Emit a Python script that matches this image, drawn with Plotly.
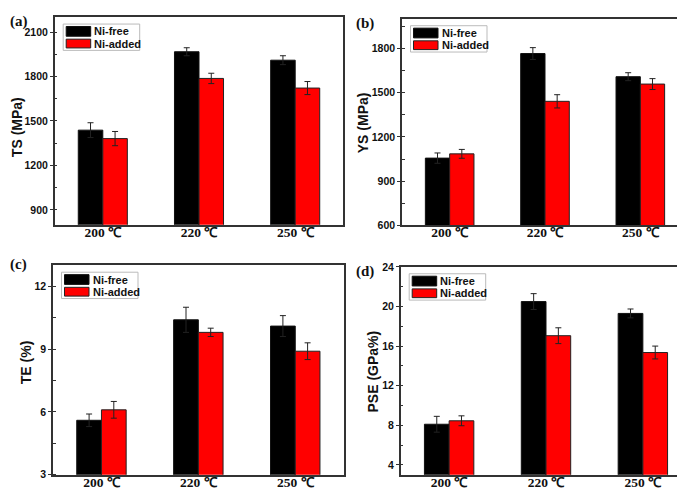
import plotly.graph_objects as go
from plotly.subplots import make_subplots

temps = ["200 ℃", "220 ℃", "250 ℃"]

ts_free = [1438, 1967, 1910]
ts_free_err = [50, 27, 30]
ts_added = [1381, 1787, 1722]
ts_added_err = [48, 35, 44]

ys_free = [1056, 1765, 1608]
ys_free_err = [35, 40, 27]
ys_added = [1085, 1441, 1558]
ys_added_err = [30, 45, 37]

te_free = [5.6, 10.4, 10.1]
te_free_err = [0.3, 0.6, 0.5]
te_added = [6.1, 9.8, 8.9]
te_added_err = [0.4, 0.2, 0.4]

pse_free = [8.1, 20.5, 19.3]
pse_free_err = [0.8, 0.8, 0.45]
pse_added = [8.45, 17.05, 15.35]
pse_added_err = [0.5, 0.8, 0.65]

W, H = 685, 489
SANS = "Liberation Sans, Arial, sans-serif"
SERIF = "Liberation Serif, Times New Roman, serif"
FRAME = "#333333"

# frame boxes in pixels: left, top, right, bottom
PANELS = [
    dict(box=(46.7, 3.3, 335.3, 216.0), label="(a)", lab_xy=(0, 8),
         title="TS (MPa)", title_xy=(9, 116), rng=[800, 2200], dtick=300,
         free=ts_free, free_err=ts_free_err, added=ts_added, added_err=ts_added_err),
    dict(box=(394.0, 5.0, 680.0, 216.7), label="(b)", lab_xy=(346, 10),
         title="YS (MPa)", title_xy=(355, 112), rng=[600, 2000], dtick=300,
         free=ys_free, free_err=ys_free_err, added=ys_added, added_err=ys_added_err),
    dict(box=(45.0, 257.7, 335.7, 472.3), label="(c)", lab_xy=(0, 257),
         title="TE (%)", title_xy=(18, 357), rng=[3, 13], dtick=3,
         free=te_free, free_err=te_free_err, added=te_added, added_err=te_added_err),
    dict(box=(392.7, 259.3, 683.3, 472.3), label="(d)", lab_xy=(346, 264),
         title="PSE (GPa%)", title_xy=(364.5, 367), rng=[3, 24], dtick=4,
         free=pse_free, free_err=pse_free_err, added=pse_added, added_err=pse_added_err),
]

fig = make_subplots(rows=2, cols=2)

for i, p in enumerate(PANELS):
    r, c = i // 2 + 1, i % 2 + 1
    fig.add_trace(go.Bar(
        x=temps, y=p["free"], name="Ni-free", marker_color="#000000",
        marker_line=dict(color="#111111", width=1),
        error_y=dict(type="data", array=p["free_err"], color="#222222", thickness=1, width=3),
        showlegend=False,
    ), row=r, col=c)
    fig.add_trace(go.Bar(
        x=temps, y=p["added"], name="Ni-added", marker_color="#ff0000",
        marker_line=dict(color="#222222", width=1),
        error_y=dict(type="data", array=p["added_err"], color="#222222", thickness=1, width=3),
        showlegend=False,
    ), row=r, col=c)

    x0, y0, x1, y1 = p["box"]
    sfx = "" if i == 0 else str(i + 1)
    fig.update_layout(**{
        f"xaxis{sfx}": dict(
            domain=[x0 / W, x1 / W], range=[-0.5, 2.5], ticks="",
            showline=True, mirror=True, linecolor=FRAME, linewidth=1.5,
            tickfont=dict(family=SERIF, size=13.5, color="#111111", weight="bold"),
            ticklabelstandoff=-6,
            showgrid=False, zeroline=False,
        ),
        f"yaxis{sfx}": dict(
            domain=[1 - y1 / H, 1 - y0 / H], range=p["rng"], dtick=p["dtick"],
            ticks="outside", ticklen=3, tickcolor=FRAME,
            minor=dict(ticks="inside", ticklen=3, dtick=p["dtick"] / 2, tickcolor=FRAME),
            showline=True, mirror=True, linecolor=FRAME, linewidth=1.5,
            tickfont=dict(family=SANS, size=10.5, color="#111111", weight="bold"),
            showgrid=False, zeroline=False,
        ),
    })

    # y axis title
    tx, ty = p["title_xy"]
    fig.add_annotation(xref="paper", yref="paper", x=tx / W, y=1 - ty / H, text=p["title"],
                       textangle=-90, showarrow=False, xanchor="center", yanchor="middle",
                       font=dict(family=SANS, size=14, color="#111111", weight="bold"))

    # legend box drawn per panel, positions in pixels relative to frame
    fw, fh = x1 - x0, y1 - y0
    xref, yref = f"x{sfx} domain", f"y{sfx} domain"

    def fx(px):
        return px / fw

    def fy(py):
        return 1 - py / fh

    fig.add_shape(type="rect", xref=xref, yref=yref, x0=fx(8.5), x1=fx(85), y0=fy(34), y1=fy(7),
                  line=dict(color="#bbbbbb", width=1), fillcolor="white", layer="above")
    fig.add_shape(type="rect", xref=xref, yref=yref, x0=fx(11.5), x1=fx(36), y0=fy(19.5), y1=fy(9.5),
                  line=dict(color="#111111", width=1), fillcolor="#000000", layer="above")
    fig.add_shape(type="rect", xref=xref, yref=yref, x0=fx(11.5), x1=fx(36), y0=fy(31.5), y1=fy(22.5),
                  line=dict(color="#222222", width=1), fillcolor="#ff0000", layer="above")
    for name, py in (("Ni-free", 14.5), ("Ni-added", 27)):
        fig.add_annotation(xref=xref, yref=yref, x=fx(37.5), y=fy(py), text=name,
                           showarrow=False, xanchor="left", yanchor="middle",
                           font=dict(family=SANS, size=11, color="#111111", weight="bold"))

    lx, ly = p["lab_xy"]
    fig.add_annotation(xref="paper", yref="paper", x=lx / W, y=1 - ly / H, text=p["label"],
                       showarrow=False, xanchor="left", yanchor="middle",
                       font=dict(family=SERIF, size=15, color="#111111", weight="bold"))

fig.update_layout(
    width=W, height=H,
    margin=dict(l=0, r=0, t=0, b=0),
    paper_bgcolor="white", plot_bgcolor="white",
    barmode="group", bargap=0.49, bargroupgap=0,
    showlegend=False,
)

fig.write_html("out.html")
